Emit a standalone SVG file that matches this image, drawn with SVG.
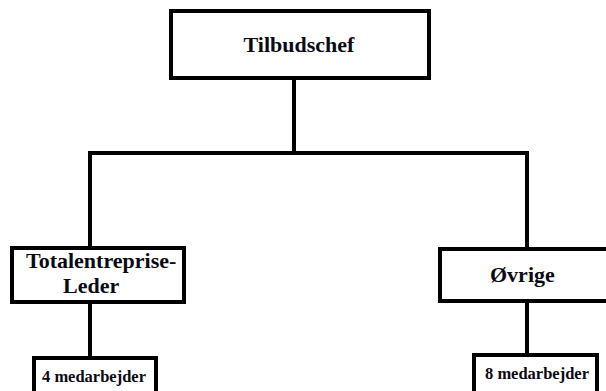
<svg xmlns="http://www.w3.org/2000/svg" width="606" height="391" viewBox="0 0 606 391">
<style>
.box{fill:#fff;stroke:#000;stroke-width:4}
.ln{fill:none;stroke:#000;stroke-width:4}
.t{font-family:"Liberation Serif","Times New Roman",serif;font-weight:bold;fill:#0a0a14}
.big{font-size:22px}
.small{font-size:16.5px}
</style>
<rect width="606" height="391" fill="#fff"/>
<g id="connectors">
<path class="ln" d="M294 79V153M90 153H527M90 151V248M527 151V249"/>
<path class="ln" d="M90 302V358"/>
<path class="ln" d="M527 301V355"/>
</g>
<g id="tilbudschef">
<rect class="box" x="171" y="11" width="258" height="67"/>
<text class="t big" x="299" y="52" text-anchor="middle">Tilbudschef</text>
</g>
<g id="totalentreprise">
<rect class="box" x="12" y="248" width="172" height="54"/>
<text class="t big" x="26" y="268">Totalentreprise-</text>
<text class="t big" x="63" y="293">Leder</text>
</g>
<g id="ovrige">
<rect class="box" x="440" y="249" width="172" height="52"/>
<text class="t big" x="490" y="282">Øvrige</text>
</g>
<g id="medarbejder4">
<rect class="box" x="34" y="358" width="122" height="40"/>
<text class="t small" x="42" y="382">4 medarbejder</text>
</g>
<g id="medarbejder8">
<rect class="box" x="474" y="355" width="123" height="43"/>
<text class="t small" x="485" y="379">8 medarbejder</text>
</g>
</svg>
